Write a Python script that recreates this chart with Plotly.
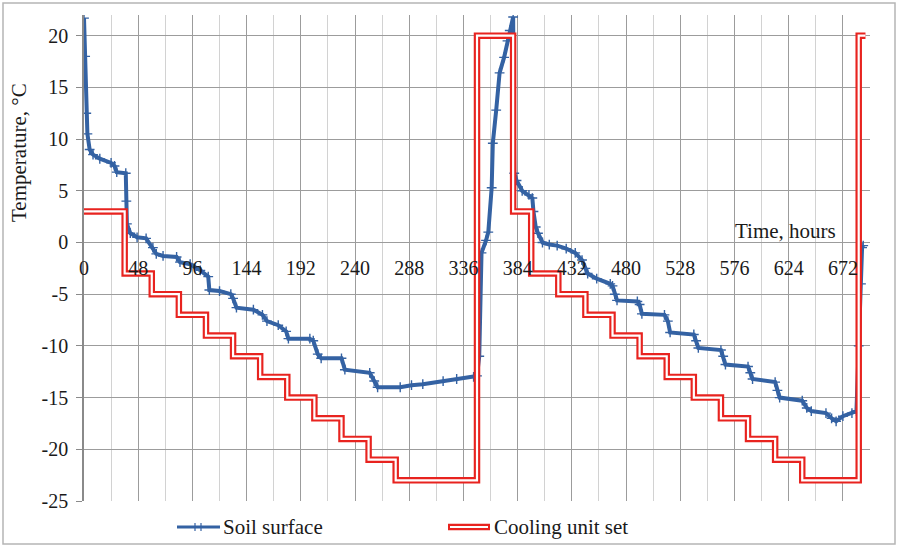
import plotly.graph_objects as go

# ---------------- data ----------------
soil_hours = [0, 1, 2, 3, 5, 8, 14, 24, 27, 29, 37, 37.5, 38, 41, 47, 55, 61, 64, 70, 82, 85, 94,
              103, 110, 111, 120, 130, 132, 135, 150, 158, 162, 172, 179, 181, 200, 203, 207, 210,
              228, 231, 253, 257, 260, 280, 290, 300, 318, 330, 345, 348,
              350, 352, 356, 358, 361, 362, 365, 368, 372, 375, 377, 380,
              381, 383, 388, 394, 397, 398, 400, 402, 406, 412, 419, 427, 435, 441, 444, 446, 454,
              466, 468, 470, 472, 490, 492, 494, 514, 517, 519, 540, 542, 544, 564, 566, 568,
              588, 590, 592, 612, 614, 616, 636, 640, 644, 657, 662, 666, 672, 680, 684,
              686, 688, 689, 690]
soil_temp = [21.7, 18.0, 12.5, 10.5, 9.0, 8.5, 8.1, 7.7, 7.4, 6.8, 6.7, 4.0, 1.8, 0.9, 0.5, 0.4, -0.5, -1.1, -1.3, -1.4, -1.9, -2.1,
             -2.7, -3.3, -4.6, -4.7, -5.0, -5.4, -6.3, -6.5, -7.0, -7.6, -8.0, -8.6, -9.3, -9.3, -9.5, -10.8, -11.2,
             -11.2, -12.3, -12.6, -13.4, -14.0, -14.0, -13.8, -13.7, -13.4, -13.2, -13.0, -12.9,
             -11.0, -1.0, 0.2, 1.0, 5.3, 9.6, 12.8, 16.4, 17.9, 19.5, 20.5, 21.8,
             6.7, 6.0, 5.0, 4.6, 4.3, 3.0, 1.5, 0.9, 0.0, -0.2, -0.3, -0.6, -1.0, -1.7, -2.5, -3.0, -3.5,
             -4.0, -4.2, -5.0, -5.6, -5.7, -6.0, -6.9, -7.0, -7.6, -8.7, -8.9, -9.5, -10.2, -10.4, -11.0, -11.8,
             -12.0, -12.6, -13.2, -13.5, -14.3, -15.0, -15.3, -16.0, -16.3, -16.5, -17.0, -17.3, -16.8, -16.5, -16.3,
             -10.0, -4.0, -0.5, -0.3]

set_hours = [0, 36, 60, 84, 108, 132, 156, 180, 204, 228, 252, 276, 348, 380, 396, 420, 444,
             468, 492, 516, 540, 564, 588, 612, 636, 686, 692]
set_temp = [3, -3, -5, -7, -9, -11, -13, -15, -17, -19, -21, -23, 20, 3, -3, -5, -7,
            -9, -11, -13, -15, -17, -19, -21, -23, 20, 20]

x_tick_vals = [0, 48, 96, 144, 192, 240, 288, 336, 384, 432, 480, 528, 576, 624, 672]
x_tick_text = ["0", "48", "96", "144", "192", "240", "288", "336", "384", "432", "480", "528", "576", "624", "672"]
y_tick_vals = [-25, -20, -15, -10, -5, 0, 5, 10, 15, 20]
y_tick_text = ["-25", "-20", "-15", "-10", "-5", "0", "5", "10", "15", "20"]

series_names = ["Soil surface", "Cooling unit set"]
x_title = "Time, hours"
y_title = "Temperature, °C"

# ---------------- style ----------------
W, H = 898, 547
PLOT_L, PLOT_R, PLOT_T, PLOT_B = 84, 870, 15, 501   # page pixels of plot area
L, R, T, B = PLOT_L, W - PLOT_R, PLOT_T, H - PLOT_B
X_RANGE = [0, 696]
Y_RANGE = [-25, 22]
FONT = "Liberation Serif, Times New Roman, serif"
BLUE = "#3462a3"
RED = "#e8231f"
GRID = "#9c9c9c"
MINOR = "#d2d2d2"
TXT = "#1a1a1a"

pw, ph = PLOT_R - PLOT_L, PLOT_B - PLOT_T


def px(x):
    return (x - PLOT_L) / pw


def py(y):
    return (PLOT_B - y) / ph


fig = go.Figure()

fig.add_trace(go.Scatter(
    x=soil_hours, y=soil_temp, mode="lines+markers", name=series_names[0],
    line=dict(color=BLUE, width=4),
    marker=dict(symbol="cross-thin", size=7, color=BLUE, line=dict(color=BLUE, width=1.4)),
    showlegend=False))

fig.add_trace(go.Scatter(
    x=set_hours, y=set_temp, mode="lines", name=series_names[1], line_shape="hv",
    line=dict(color=RED, width=6.5), showlegend=False))
fig.add_trace(go.Scatter(
    x=set_hours, y=set_temp, mode="lines", line_shape="hv",
    line=dict(color="white", width=2.2), showlegend=False, hoverinfo="skip"))

zero_pos = (0 - Y_RANGE[0]) / (Y_RANGE[1] - Y_RANGE[0])

fig.update_layout(
    width=W, height=H,
    margin=dict(l=L, r=R, t=T, b=B, autoexpand=False),
    paper_bgcolor="white", plot_bgcolor="white",
    font=dict(family=FONT, color=TXT, size=20),
    xaxis=dict(range=X_RANGE, tickvals=x_tick_vals, ticktext=x_tick_text,
               anchor="free", position=zero_pos,
               showgrid=True, gridcolor=GRID, gridwidth=1.3,
               minor=dict(tick0=0, dtick=24, showgrid=True, gridcolor=MINOR, gridwidth=1.3),
               zeroline=False, showline=False, ticks="", ticklabelstandoff=12,
               tickfont=dict(size=20, family=FONT, color=TXT)),
    yaxis=dict(range=Y_RANGE, tickvals=y_tick_vals, ticktext=y_tick_text,
               showgrid=True, gridcolor=GRID, gridwidth=1.3, zeroline=False,
               showline=True, linecolor="#8a8a8a", linewidth=1.5,
               ticks="outside", ticklen=6, tickcolor="#8a8a8a", tickwidth=1.3,
               ticklabelstandoff=4,
               tickfont=dict(size=20, family=FONT, color=TXT)),
)

annotations = [
    dict(text=y_title, x=px(19), y=py(153), xref="paper", yref="paper", textangle=-90,
         showarrow=False, xanchor="center", yanchor="middle", font=dict(size=21, family=FONT, color=TXT)),
    dict(text=x_title, x=px(785), y=py(231), xref="paper", yref="paper",
         showarrow=False, xanchor="center", yanchor="middle", font=dict(size=21, family=FONT, color=TXT)),
    dict(text=series_names[0], x=px(221), y=py(527), xref="paper", yref="paper",
         showarrow=False, xanchor="left", yanchor="middle", font=dict(size=21, family=FONT, color=TXT)),
    dict(text=series_names[1], x=px(492), y=py(527), xref="paper", yref="paper",
         showarrow=False, xanchor="left", yanchor="middle", font=dict(size=21, family=FONT, color=TXT)),
]
fig.update_layout(annotations=annotations)

shapes = [
    # outer border
    dict(type="rect", xref="paper", yref="paper", x0=px(3), x1=px(895), y0=py(544), y1=py(3),
         line=dict(color="#b5b5b5", width=1.5), fillcolor="rgba(0,0,0,0)", layer="below"),
    # legend: soil surface
    dict(type="line", xref="paper", yref="paper", x0=px(177), x1=px(220), y0=py(527), y1=py(527),
         line=dict(color=BLUE, width=3)),
    dict(type="line", xref="paper", yref="paper", x0=px(195), x1=px(195), y0=py(523), y1=py(531),
         line=dict(color=BLUE, width=1.2)),
    dict(type="line", xref="paper", yref="paper", x0=px(201), x1=px(201), y0=py(523), y1=py(531),
         line=dict(color=BLUE, width=1.2)),
    # legend: cooling unit set
    dict(type="line", xref="paper", yref="paper", x0=px(448), x1=px(490), y0=py(527), y1=py(527),
         line=dict(color=RED, width=6.5)),
    dict(type="line", xref="paper", yref="paper", x0=px(450), x1=px(488), y0=py(527), y1=py(527),
         line=dict(color="white", width=2.2)),
]
fig.update_layout(shapes=shapes)

fig.write_html("out.html", config={"displayModeBar": False},
               post_script="document.body.style.margin='0px';")
